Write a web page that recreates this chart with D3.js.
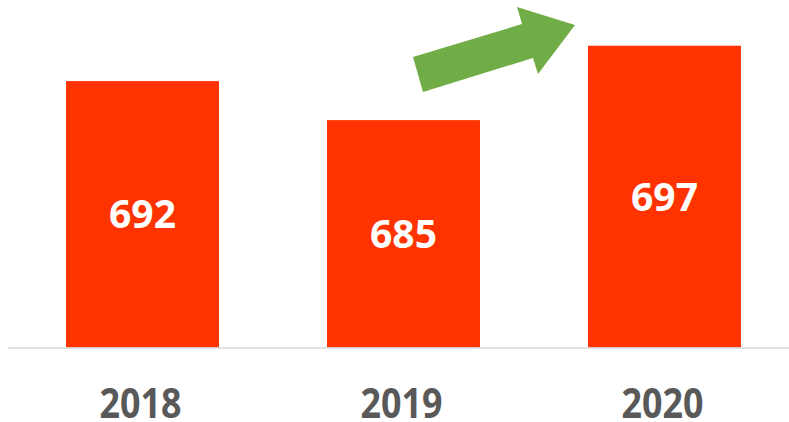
<!DOCTYPE html>
<html>
<head>
<meta charset="utf-8">
<script src="https://cdn.jsdelivr.net/npm/d3@7"></script>
<style>
  body { margin: 0; background: #fff; }
  svg { display: block; }
  .bar { fill: #ff3300; }
  text.value { font-family: "Open Sans", sans-serif; font-weight: 700; font-size: 39px; fill: #fff; }
  text.year { font-family: "Open Sans", sans-serif; font-weight: 700; font-size: 41px; fill: #595959; }
</style>
</head>
<body>
<svg id="chart"></svg>
<script>
const years = ["2018", "2019", "2020"];
const values = [691.6, 685.2, 697.4];

const width = 789;
const height = 422;
const baseline = 347.5;

const svg = d3.select("#chart").attr("width", width).attr("height", height);

const xScale = d3.scaleBand()
  .domain(years)
  .range([8, 799])
  .paddingInner(0.414)
  .paddingOuter(0.2224);

const yScale = d3.scaleLinear()
  .domain([647.9, 704.9])
  .range([baseline, 0]);

const data = years.map((y, i) => ({ year: y, value: values[i] }));

// bars
svg.selectAll(".bar")
  .data(data)
  .enter()
  .append("rect")
  .attr("class", "bar")
  .attr("x", (d) => xScale(d.year))
  .attr("y", (d) => yScale(d.value))
  .attr("width", xScale.bandwidth())
  .attr("height", (d) => baseline - yScale(d.value));

// baseline
svg.append("line")
  .attr("x1", 8)
  .attr("x2", width)
  .attr("y1", baseline + 0.5)
  .attr("y2", baseline + 0.5)
  .attr("stroke", "#d9d9d9")
  .attr("stroke-width", 1.5);

// value labels
svg.selectAll(".value")
  .data(data)
  .enter()
  .append("text")
  .attr("class", "value")
  .attr("text-anchor", "middle")
  .attr("x", (d) => xScale(d.year) + xScale.bandwidth() / 2)
  .attr("y", (d) => (yScale(d.value) + baseline) / 2 + 14)
  .text((d) => d3.format(".0f")(d.value));

// category labels
svg.selectAll(".year")
  .data(data)
  .enter()
  .append("text")
  .attr("class", "year")
  .attr("text-anchor", "middle")
  .attr("x", (d) => xScale(d.year) + xScale.bandwidth() / 2 - 2)
  .attr("y", 418)
  .attr("textLength", 82)
  .attr("lengthAdjust", "spacingAndGlyphs")
  .text((d) => d.year);

// green trend arrow
const arrow = [[413, 57], [522, 24], [517, 7], [575, 25], [538, 74], [533, 58], [423, 92]];
svg.append("polygon")
  .attr("points", arrow.map((p) => p.join(",")).join(" "))
  .attr("fill", "#70ad47");
</script>
</body>
</html>
